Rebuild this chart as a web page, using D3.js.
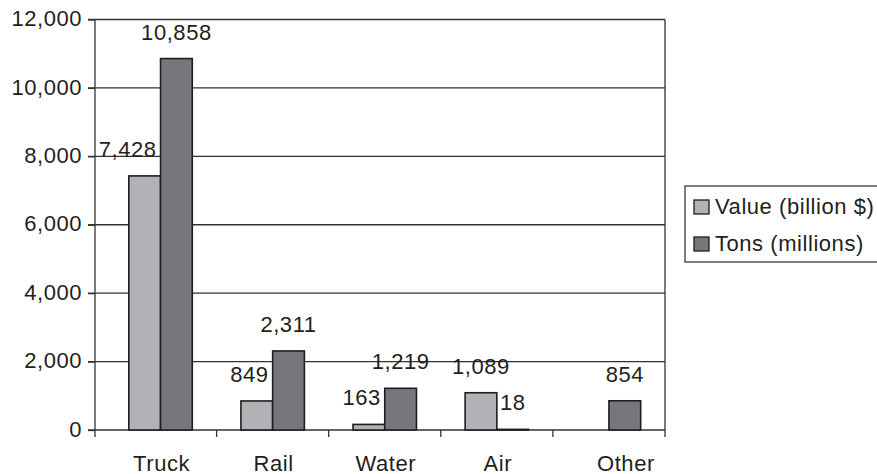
<!DOCTYPE html>
<html>
<head>
<meta charset="utf-8">
<script src="https://cdn.jsdelivr.net/npm/d3@7/dist/d3.min.js"></script>
<style>
  html, body { margin: 0; padding: 0; background: #fff; }
  svg { display: block; font-family: "Liberation Sans", Arial, sans-serif; }
  text { fill: #231f20; letter-spacing: 0.55px; }
</style>
</head>
<body>
<svg id="chart" width="877" height="474"></svg>
<script>
// Freight shipments by mode
const categories = ["Truck", "Rail", "Water", "Air", "Other"];
const seriesNames = ["Value (billion $)", "Tons (millions)"];
const valueBillion = [7428, 849, 163, 1089, null];
const tonsMillions = [10858, 2311, 1219, 18, 854];
const yTicks = [0, 2000, 4000, 6000, 8000, 10000, 12000];

const seriesValues = [valueBillion, tonsMillions];
const fills = ["#b1b2b6", "#76777b"];

const svg = d3.select("#chart");
const fontSize = 22;

const axisLeftX = 95, plotRight = 665, plotTop = 19.5, plotBottom = 430;
const tickLen = 7;

const x = d3.scaleBand().domain(categories).range([104.5, plotRight]);
const pairW = x.bandwidth() * 0.566;
const xs = d3.scaleBand().domain(seriesNames).range([0, pairW]);
const y = d3.scaleLinear().domain([0, 12000]).range([plotBottom, plotTop]);
const fmt = d3.format(",");

// Gridlines (including the top border and the zero line)
svg.append("g")
  .selectAll("line")
  .data(yTicks)
  .join("line")
  .attr("x1", axisLeftX - tickLen)
  .attr("x2", plotRight)
  .attr("y1", d => y(d))
  .attr("y2", d => y(d))
  .attr("stroke", "#333")
  .attr("stroke-width", 1.3);

// Value axis
const yAxis = svg.append("g")
  .attr("transform", `translate(${axisLeftX},0)`)
  .call(d3.axisLeft(y).tickValues(yTicks).tickSize(tickLen).tickSizeOuter(0)
    .tickPadding(6).tickFormat(fmt));
yAxis.select(".domain").remove();
yAxis.selectAll(".tick line").attr("stroke", "#333").attr("stroke-width", 1.3);
yAxis.selectAll(".tick text")
  .attr("font-size", fontSize)
  .attr("font-family", "Liberation Sans, Arial, sans-serif")
  .attr("fill", "#231f20")
  .attr("dy", "0.28em");

// Left and right frame lines, both running down past the baseline as ticks
[axisLeftX, plotRight].forEach(px => {
  svg.append("line")
    .attr("x1", px).attr("x2", px)
    .attr("y1", plotTop).attr("y2", plotBottom + tickLen)
    .attr("stroke", "#333").attr("stroke-width", 1.3);
});

// Category boundary ticks
svg.append("g")
  .selectAll("line")
  .data(categories.slice(0, -1))
  .join("line")
  .attr("x1", d => x(d) + x.bandwidth())
  .attr("x2", d => x(d) + x.bandwidth())
  .attr("y1", plotBottom)
  .attr("y2", plotBottom + tickLen)
  .attr("stroke", "#333").attr("stroke-width", 1.3);

// Bars
const pairOffset = (x.bandwidth() - pairW) / 2;
const barData = [];
categories.forEach((c, i) => {
  seriesNames.forEach((s, j) => {
    const v = seriesValues[j][i];
    if (v !== null && v !== undefined) barData.push({ c, s, j, v, i });
  });
});

svg.append("g")
  .selectAll("rect")
  .data(barData)
  .join("rect")
  .attr("x", d => x(d.c) + pairOffset + xs(d.s))
  .attr("y", d => y(d.v))
  .attr("width", xs.bandwidth())
  .attr("height", d => y(0) - y(d.v))
  .attr("fill", d => fills[d.j])
  .attr("stroke", "#1e1e1e")
  .attr("stroke-width", 1.6);

// Value labels, sitting above each bar; a light-bar label that would run
// into its taller neighbour is pushed to the left of that neighbour
const labels = svg.append("g")
  .selectAll("text")
  .data(barData)
  .join("text")
  .attr("font-size", fontSize)
  .attr("text-anchor", "middle")
  .attr("x", d => x(d.c) + pairOffset + xs(d.s) + xs.bandwidth() / 2)
  .attr("y", d => y(d.v) - 19)
  .text(d => fmt(d.v));

labels.each(function (d) {
  if (d.j !== 0) return;
  const other = tonsMillions[d.i];
  if (other === null || other === undefined) return;
  const labelBottom = y(d.v) - 19;
  if (y(other) >= labelBottom) return;
  const w = this.getComputedTextLength();
  const cx = +d3.select(this).attr("x");
  const neighbourLeft = x(d.c) + pairOffset + xs(seriesNames[1]);
  if (cx + w / 2 > neighbourLeft - 3) {
    d3.select(this).attr("text-anchor", "end").attr("x", neighbourLeft - 4);
  }
});

// Category labels
svg.append("g")
  .selectAll("text")
  .data(categories)
  .join("text")
  .attr("font-size", fontSize)
  .attr("text-anchor", "middle")
  .attr("x", d => x(d) + x.bandwidth() / 2 + 1)
  .attr("dx", (d, i) => i === categories.length - 1 ? 16 : 0)
  .attr("y", 470.5)
  .text(d => d);

// Legend
const legend = svg.append("g");
legend.append("rect")
  .attr("x", 685).attr("y", 186)
  .attr("width", 220).attr("height", 76)
  .attr("fill", "#fff")
  .attr("stroke", "#555").attr("stroke-width", 1.5);

const items = legend.selectAll("g.item")
  .data(seriesNames)
  .join("g")
  .attr("class", "item")
  .attr("transform", (d, i) => `translate(694,${200 + i * 37})`);

items.append("rect")
  .attr("width", 15).attr("height", 14)
  .attr("fill", (d, i) => fills[i])
  .attr("stroke", "#1e1e1e").attr("stroke-width", 1.3);

items.append("text")
  .attr("x", 21)
  .attr("y", 13.5)
  .attr("font-size", fontSize)
  .text(d => d);
</script>
</body>
</html>
